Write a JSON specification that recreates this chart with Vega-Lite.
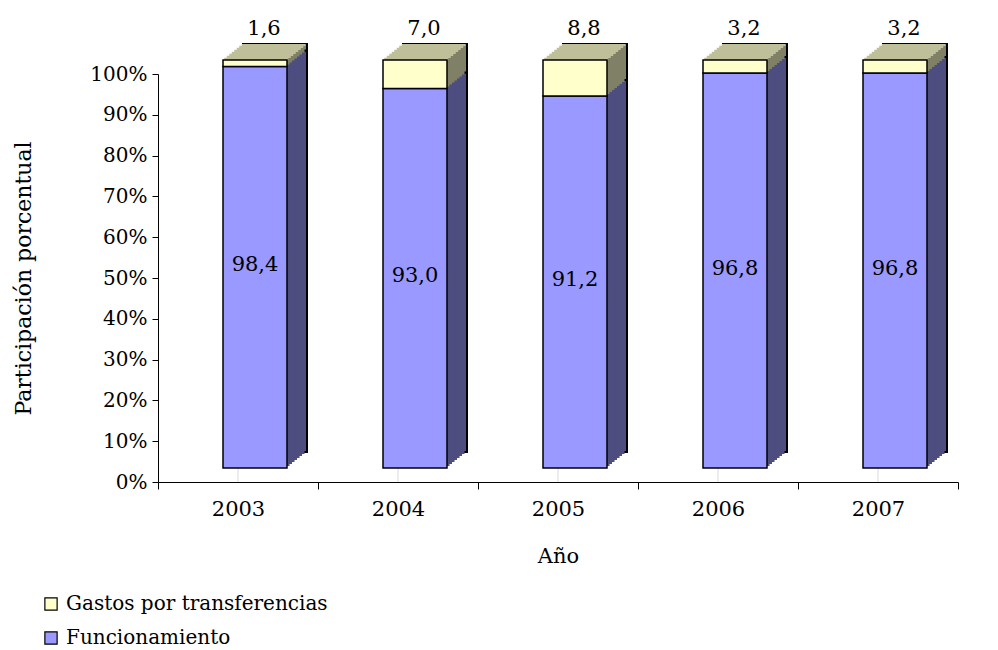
{
  "$schema": "https://vega.github.io/schema/vega-lite/v6.json",
  "autosize": {"type": "none"},
  "padding": {"left": 158, "top": 74, "right": 40, "bottom": 168},
  "width": 800,
  "height": 408,
  "config": {
    "font": "DejaVu Serif",
    "view": {"stroke": null},
    "locale": {"number": {"decimal": ",", "thousands": ".", "grouping": [3], "currency": ["", ""]}}
  },
  "data": {
    "values": [
      {"anio": "2003", "serie": "Funcionamiento", "valor": 98.4},
      {"anio": "2003", "serie": "Gastos por transferencias", "valor": 1.6},
      {"anio": "2004", "serie": "Funcionamiento", "valor": 93.0},
      {"anio": "2004", "serie": "Gastos por transferencias", "valor": 7.0},
      {"anio": "2005", "serie": "Funcionamiento", "valor": 91.2},
      {"anio": "2005", "serie": "Gastos por transferencias", "valor": 8.8},
      {"anio": "2006", "serie": "Funcionamiento", "valor": 96.8},
      {"anio": "2006", "serie": "Gastos por transferencias", "valor": 3.2},
      {"anio": "2007", "serie": "Funcionamiento", "valor": 96.8},
      {"anio": "2007", "serie": "Gastos por transferencias", "valor": 3.2}
    ]
  },
  "encoding": {
    "x": {
      "field": "anio", "type": "nominal",
      "scale": {"paddingInner": 0, "paddingOuter": 0},
      "axis": {
        "title": "Año", "titleFontWeight": "normal", "titleFontSize": 21, "titleColor": "black", "titlePadding": 26,
        "labelAngle": 0, "labelFontSize": 21, "labelColor": "black", "labelPadding": 9,
        "tickBand": "extent", "tickSize": 7, "tickColor": "black", "domainColor": "black", "domainWidth": 1
      }
    }
  },
  "layer": [
    {
      "mark": {"type": "rule", "color": "#e6e6e6", "strokeWidth": 1},
      "encoding": {"y": {"datum": 10, "type": "quantitative"}}
    },
    {
      "mark": {"type": "bar", "width": 64, "stroke": "black", "strokeWidth": 2, "xOffset": 37, "x2Offset": 37, "yOffset": -30, "y2Offset": -30},
      "encoding": {
        "y": {
          "field": "valor", "type": "quantitative", "stack": "zero",
          "scale": {"domain": [0, 100], "nice": false},
          "axis": {
            "values": [0, 10, 20, 30, 40, 50, 60, 70, 80, 90, 100],
            "labelExpr": "datum.value + '%'", "labelFontSize": 20, "labelColor": "black", "labelPadding": 5,
            "tickSize": 6, "tickColor": "black", "domainColor": "black", "grid": false,
            "title": "Participación porcentual", "titleFontWeight": "normal", "titleFontSize": 22, "titleColor": "black", "titlePadding": 54
          }
        },
        "fill": {"condition": {"test": "datum.serie == 'Funcionamiento'", "value": "#4D4D80"}, "value": "#808066"},
        "detail": {"field": "serie"},
        "order": {"field": "serie", "sort": "ascending"}
      }
    },
    {
      "mark": {"type": "bar", "width": 64, "xOffset": 34.5, "x2Offset": 34.5, "yOffset": -28, "y2Offset": -28},
      "encoding": {"y": {"field": "valor", "type": "quantitative", "stack": "zero"}, "fill": {"condition": {"test": "datum.serie == 'Funcionamiento'", "value": "#4D4D80"}, "value": "#808066"}, "detail": {"field": "serie"}, "order": {"field": "serie", "sort": "ascending"}}
    },
    {
      "mark": {"type": "bar", "width": 64, "xOffset": 32, "x2Offset": 32, "yOffset": -26, "y2Offset": -26},
      "encoding": {"y": {"field": "valor", "type": "quantitative", "stack": "zero"}, "fill": {"condition": {"test": "datum.serie == 'Funcionamiento'", "value": "#4D4D80"}, "value": "#808066"}, "detail": {"field": "serie"}, "order": {"field": "serie", "sort": "ascending"}}
    },
    {
      "mark": {"type": "bar", "width": 64, "xOffset": 29.5, "x2Offset": 29.5, "yOffset": -24, "y2Offset": -24},
      "encoding": {"y": {"field": "valor", "type": "quantitative", "stack": "zero"}, "fill": {"condition": {"test": "datum.serie == 'Funcionamiento'", "value": "#4D4D80"}, "value": "#808066"}, "detail": {"field": "serie"}, "order": {"field": "serie", "sort": "ascending"}}
    },
    {
      "mark": {"type": "bar", "width": 64, "xOffset": 27, "x2Offset": 27, "yOffset": -22, "y2Offset": -22},
      "encoding": {"y": {"field": "valor", "type": "quantitative", "stack": "zero"}, "fill": {"condition": {"test": "datum.serie == 'Funcionamiento'", "value": "#4D4D80"}, "value": "#808066"}, "detail": {"field": "serie"}, "order": {"field": "serie", "sort": "ascending"}}
    },
    {
      "mark": {"type": "bar", "width": 64, "xOffset": 24.5, "x2Offset": 24.5, "yOffset": -20, "y2Offset": -20},
      "encoding": {"y": {"field": "valor", "type": "quantitative", "stack": "zero"}, "fill": {"condition": {"test": "datum.serie == 'Funcionamiento'", "value": "#4D4D80"}, "value": "#808066"}, "detail": {"field": "serie"}, "order": {"field": "serie", "sort": "ascending"}}
    },
    {
      "mark": {"type": "bar", "width": 64, "xOffset": 22, "x2Offset": 22, "yOffset": -18, "y2Offset": -18},
      "encoding": {"y": {"field": "valor", "type": "quantitative", "stack": "zero"}, "fill": {"condition": {"test": "datum.serie == 'Funcionamiento'", "value": "#4D4D80"}, "value": "#808066"}, "detail": {"field": "serie"}, "order": {"field": "serie", "sort": "ascending"}}
    },
    {
      "mark": {"type": "bar", "width": 64, "xOffset": 19.5, "x2Offset": 19.5, "yOffset": -16, "y2Offset": -16},
      "encoding": {"y": {"field": "valor", "type": "quantitative", "stack": "zero"}, "fill": {"condition": {"test": "datum.serie == 'Funcionamiento'", "value": "#4D4D80"}, "value": "#808066"}, "detail": {"field": "serie"}, "order": {"field": "serie", "sort": "ascending"}}
    },
    {
      "transform": [{"filter": "datum.serie == 'Gastos por transferencias'"}],
      "mark": {"type": "bar", "width": 64, "color": "#BFBF99", "xOffset": 18.25, "x2Offset": 18.25, "yOffset": -14, "y2Offset": -16.3},
      "encoding": {"y": {"datum": 100, "type": "quantitative"}, "y2": {"datum": 100}}
    },
    {
      "transform": [{"filter": "datum.serie == 'Gastos por transferencias'"}],
      "mark": {"type": "bar", "width": 64, "color": "#BFBF99", "xOffset": 20.75, "x2Offset": 20.75, "yOffset": -16, "y2Offset": -18.3},
      "encoding": {"y": {"datum": 100, "type": "quantitative"}, "y2": {"datum": 100}}
    },
    {
      "transform": [{"filter": "datum.serie == 'Gastos por transferencias'"}],
      "mark": {"type": "bar", "width": 64, "color": "#BFBF99", "xOffset": 23.25, "x2Offset": 23.25, "yOffset": -18, "y2Offset": -20.3},
      "encoding": {"y": {"datum": 100, "type": "quantitative"}, "y2": {"datum": 100}}
    },
    {
      "transform": [{"filter": "datum.serie == 'Gastos por transferencias'"}],
      "mark": {"type": "bar", "width": 64, "color": "#BFBF99", "xOffset": 25.75, "x2Offset": 25.75, "yOffset": -20, "y2Offset": -22.3},
      "encoding": {"y": {"datum": 100, "type": "quantitative"}, "y2": {"datum": 100}}
    },
    {
      "transform": [{"filter": "datum.serie == 'Gastos por transferencias'"}],
      "mark": {"type": "bar", "width": 64, "color": "#BFBF99", "xOffset": 28.25, "x2Offset": 28.25, "yOffset": -22, "y2Offset": -24.3},
      "encoding": {"y": {"datum": 100, "type": "quantitative"}, "y2": {"datum": 100}}
    },
    {
      "transform": [{"filter": "datum.serie == 'Gastos por transferencias'"}],
      "mark": {"type": "bar", "width": 64, "color": "#BFBF99", "xOffset": 30.75, "x2Offset": 30.75, "yOffset": -24, "y2Offset": -26.3},
      "encoding": {"y": {"datum": 100, "type": "quantitative"}, "y2": {"datum": 100}}
    },
    {
      "transform": [{"filter": "datum.serie == 'Gastos por transferencias'"}],
      "mark": {"type": "bar", "width": 64, "color": "#BFBF99", "xOffset": 33.25, "x2Offset": 33.25, "yOffset": -26, "y2Offset": -28.3},
      "encoding": {"y": {"datum": 100, "type": "quantitative"}, "y2": {"datum": 100}}
    },
    {
      "transform": [{"filter": "datum.serie == 'Gastos por transferencias'"}],
      "mark": {"type": "bar", "width": 64, "color": "#BFBF99", "xOffset": 35.75, "x2Offset": 35.75, "yOffset": -28, "y2Offset": -30},
      "encoding": {"y": {"datum": 100, "type": "quantitative"}, "y2": {"datum": 100}}
    },
    {
      "mark": {"type": "bar", "width": 64, "stroke": "black", "strokeWidth": 1.5, "xOffset": 17, "x2Offset": 17, "yOffset": -14, "y2Offset": -14},
      "encoding": {
        "y": {"field": "valor", "type": "quantitative", "stack": "zero"},
        "color": {
          "field": "serie", "type": "nominal",
          "scale": {"domain": ["Gastos por transferencias", "Funcionamiento"], "range": ["#FFFFCC", "#9999FF"]},
          "legend": {
            "title": null, "orient": "none", "legendX": -117, "legendY": 520, "direction": "vertical",
            "symbolType": "square", "symbolSize": 150, "symbolStrokeColor": "black", "symbolStrokeWidth": 1.2,
            "labelFontSize": 20, "labelColor": "black", "labelOffset": 5, "rowPadding": 14, "labelLimit": 500
          }
        },
        "order": {"field": "serie", "sort": "ascending"}
      }
    },
    {
      "transform": [
        {"filter": "datum.serie == 'Funcionamiento'"},
        {"calculate": "datum.valor / 2", "as": "mitad"}
      ],
      "mark": {"type": "text", "fontSize": 21, "color": "black", "align": "center", "baseline": "middle", "xOffset": 17, "yOffset": -16},
      "encoding": {
        "y": {"field": "mitad", "type": "quantitative"},
        "text": {"field": "valor", "type": "quantitative", "format": ".1f"}
      }
    },
    {
      "transform": [{"filter": "datum.serie == 'Gastos por transferencias'"}],
      "mark": {"type": "text", "fontSize": 21, "color": "black", "align": "center", "baseline": "alphabetic", "xOffset": 26, "yOffset": -39},
      "encoding": {
        "y": {"datum": 100, "type": "quantitative"},
        "text": {"field": "valor", "type": "quantitative", "format": ".1f"}
      }
    }
  ]
}
